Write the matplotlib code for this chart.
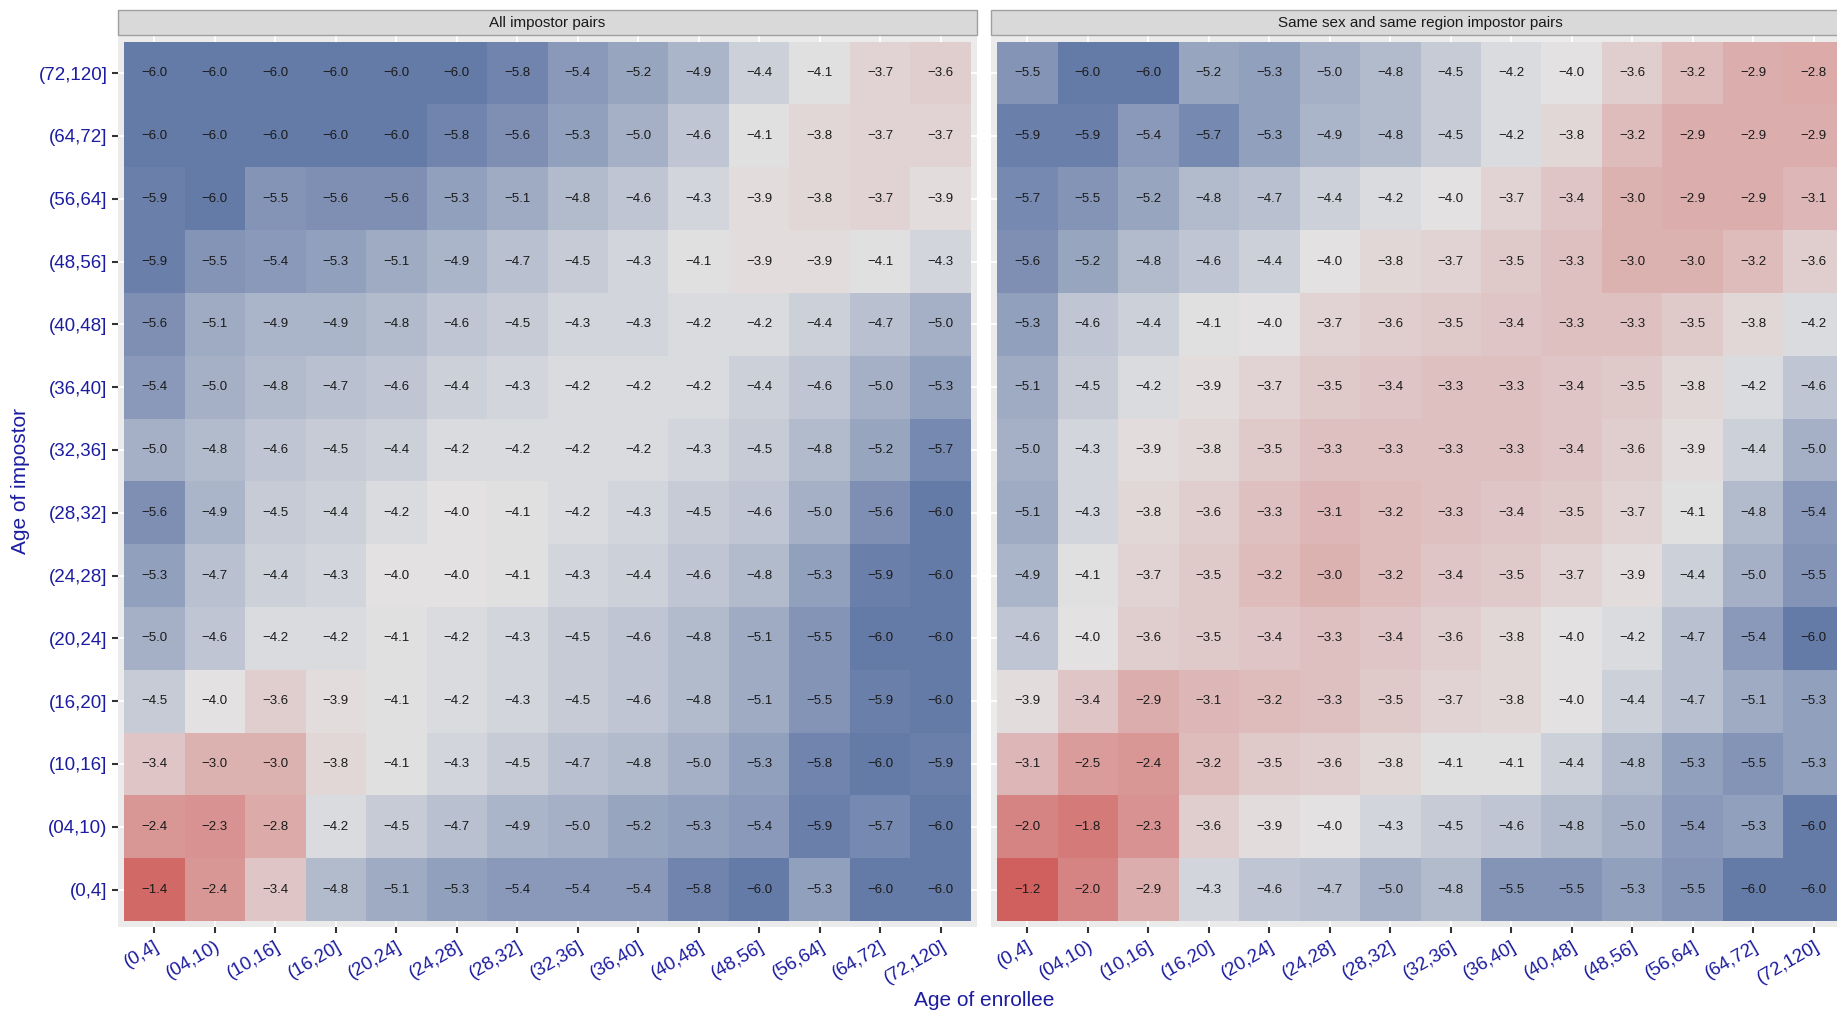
import numpy as np
import matplotlib
matplotlib.use('Agg')
import matplotlib.pyplot as plt
from matplotlib.colors import LinearSegmentedColormap, Normalize
from matplotlib.patches import Rectangle

plt.rcParams['font.family'] = ['Liberation Sans', 'DejaVu Sans']

# ---------------- data ----------------
age_bins = ["(0,4]", "(04,10)", "(10,16]", "(16,20]", "(20,24]", "(24,28]", "(28,32]",
            "(32,36]", "(36,40]", "(40,48]", "(48,56]", "(56,64]", "(64,72]", "(72,120]"]
impostor_rows = age_bins[::-1]  # top to bottom

panel_titles = ["All impostor pairs", "Same sex and same region impostor pairs"]

# rows: impostor age from (72,120] (top) down to (0,4] (bottom); columns: enrollee age (0,4] .. (72,120]
all_pairs = [
    [-6.0, -6.0, -6.0, -6.0, -6.0, -6.0, -5.8, -5.4, -5.2, -4.9, -4.4, -4.1, -3.7, -3.6],
    [-6.0, -6.0, -6.0, -6.0, -6.0, -5.8, -5.6, -5.3, -5.0, -4.6, -4.1, -3.8, -3.7, -3.7],
    [-5.9, -6.0, -5.5, -5.6, -5.6, -5.3, -5.1, -4.8, -4.6, -4.3, -3.9, -3.8, -3.7, -3.9],
    [-5.9, -5.5, -5.4, -5.3, -5.1, -4.9, -4.7, -4.5, -4.3, -4.1, -3.9, -3.9, -4.1, -4.3],
    [-5.6, -5.1, -4.9, -4.9, -4.8, -4.6, -4.5, -4.3, -4.3, -4.2, -4.2, -4.4, -4.7, -5.0],
    [-5.4, -5.0, -4.8, -4.7, -4.6, -4.4, -4.3, -4.2, -4.2, -4.2, -4.4, -4.6, -5.0, -5.3],
    [-5.0, -4.8, -4.6, -4.5, -4.4, -4.2, -4.2, -4.2, -4.2, -4.3, -4.5, -4.8, -5.2, -5.7],
    [-5.6, -4.9, -4.5, -4.4, -4.2, -4.0, -4.1, -4.2, -4.3, -4.5, -4.6, -5.0, -5.6, -6.0],
    [-5.3, -4.7, -4.4, -4.3, -4.0, -4.0, -4.1, -4.3, -4.4, -4.6, -4.8, -5.3, -5.9, -6.0],
    [-5.0, -4.6, -4.2, -4.2, -4.1, -4.2, -4.3, -4.5, -4.6, -4.8, -5.1, -5.5, -6.0, -6.0],
    [-4.5, -4.0, -3.6, -3.9, -4.1, -4.2, -4.3, -4.5, -4.6, -4.8, -5.1, -5.5, -5.9, -6.0],
    [-3.4, -3.0, -3.0, -3.8, -4.1, -4.3, -4.5, -4.7, -4.8, -5.0, -5.3, -5.8, -6.0, -5.9],
    [-2.4, -2.3, -2.8, -4.2, -4.5, -4.7, -4.9, -5.0, -5.2, -5.3, -5.4, -5.9, -5.7, -6.0],
    [-1.4, -2.4, -3.4, -4.8, -5.1, -5.3, -5.4, -5.4, -5.4, -5.8, -6.0, -5.3, -6.0, -6.0],
]

same_pairs = [
    [-5.5, -6.0, -6.0, -5.2, -5.3, -5.0, -4.8, -4.5, -4.2, -4.0, -3.6, -3.2, -2.9, -2.8],
    [-5.9, -5.9, -5.4, -5.7, -5.3, -4.9, -4.8, -4.5, -4.2, -3.8, -3.2, -2.9, -2.9, -2.9],
    [-5.7, -5.5, -5.2, -4.8, -4.7, -4.4, -4.2, -4.0, -3.7, -3.4, -3.0, -2.9, -2.9, -3.1],
    [-5.6, -5.2, -4.8, -4.6, -4.4, -4.0, -3.8, -3.7, -3.5, -3.3, -3.0, -3.0, -3.2, -3.6],
    [-5.3, -4.6, -4.4, -4.1, -4.0, -3.7, -3.6, -3.5, -3.4, -3.3, -3.3, -3.5, -3.8, -4.2],
    [-5.1, -4.5, -4.2, -3.9, -3.7, -3.5, -3.4, -3.3, -3.3, -3.4, -3.5, -3.8, -4.2, -4.6],
    [-5.0, -4.3, -3.9, -3.8, -3.5, -3.3, -3.3, -3.3, -3.3, -3.4, -3.6, -3.9, -4.4, -5.0],
    [-5.1, -4.3, -3.8, -3.6, -3.3, -3.1, -3.2, -3.3, -3.4, -3.5, -3.7, -4.1, -4.8, -5.4],
    [-4.9, -4.1, -3.7, -3.5, -3.2, -3.0, -3.2, -3.4, -3.5, -3.7, -3.9, -4.4, -5.0, -5.5],
    [-4.6, -4.0, -3.6, -3.5, -3.4, -3.3, -3.4, -3.6, -3.8, -4.0, -4.2, -4.7, -5.4, -6.0],
    [-3.9, -3.4, -2.9, -3.1, -3.2, -3.3, -3.5, -3.7, -3.8, -4.0, -4.4, -4.7, -5.1, -5.3],
    [-3.1, -2.5, -2.4, -3.2, -3.5, -3.6, -3.8, -4.1, -4.1, -4.4, -4.8, -5.3, -5.5, -5.3],
    [-2.0, -1.8, -2.3, -3.6, -3.9, -4.0, -4.3, -4.5, -4.6, -4.8, -5.0, -5.4, -5.3, -6.0],
    [-1.2, -2.0, -2.9, -4.3, -4.6, -4.7, -5.0, -4.8, -5.5, -5.5, -5.3, -5.5, -6.0, -6.0],
]

x_title = "Age of enrollee"
y_title = "Age of impostor"

# ---------------- style ----------------
W, H = 1837, 1014
label_blue = "#1C1CA0"
midpoint = -4.05

panels = [np.array(all_pairs), np.array(same_pairs)]
vmin = min(p.min() for p in panels)
vmax = max(p.max() for p in panels)
mid_pos = (midpoint - vmin) / (vmax - vmin)
cmap = LinearSegmentedColormap.from_list(
    "div", [(0.0, "#647AA7"), (mid_pos, "#E3E3E3"), (1.0, "#D0605E")])
norm = Normalize(vmin, vmax)

fig = plt.figure(figsize=(W / 100, H / 100), dpi=100)
fig.patch.set_facecolor("white")

panel_top_px, panel_bot_px = 35.4, 927.3
panel_w_px = 859
lefts_px = [118, 991]
strip_h_px = 25.6

n = len(age_bins)
edges = np.arange(n + 1) - 0.5

for k, (Z, title) in enumerate(zip(panels, panel_titles)):
    ax = fig.add_axes([lefts_px[k] / W, 1 - panel_bot_px / H, panel_w_px / W,
                       (panel_bot_px - panel_top_px) / H])
    ax.set_facecolor("#EBEBEB")
    ax.set_axisbelow(True)
    ax.grid(True, color="white", lw=1.3)
    ax.pcolormesh(edges, edges, Z, cmap=cmap, norm=norm, shading="flat", zorder=1)
    ax.set_xlim(-0.6, n - 0.4)
    ax.set_ylim(n - 0.4, -0.6)
    for s in ax.spines.values():
        s.set_visible(False)

    for r in range(n):
        for c in range(n):
            ax.text(c, r, f"{Z[r, c]:.1f}".replace("-", "\u2212"), ha="center", va="center",
                    fontsize=9.5, color="#1A1A1A", zorder=3)

    ax.set_xticks(range(n))
    ax.set_xticklabels(age_bins, rotation=30, ha="right", va="top", rotation_mode="anchor",
                       color=label_blue, fontsize=13.5)
    ax.set_yticks(range(n))
    ax.tick_params(axis="both", length=4, width=1.5, color="#333333", pad=3.5)
    if k == 0:
        ax.set_yticklabels(impostor_rows, color=label_blue, fontsize=13.5)
    else:
        ax.tick_params(axis="y", left=False, labelleft=False)

    sh = strip_h_px / (panel_bot_px - panel_top_px)
    ax.add_patch(Rectangle((0, 1), 1, sh, transform=ax.transAxes, facecolor="#D9D9D9",
                           edgecolor="#A0A0A0", lw=1.0, clip_on=False, zorder=5))
    ax.text(0.5, 1 + sh / 2, title, transform=ax.transAxes, ha="center", va="center",
            fontsize=11, color="#1A1A1A", zorder=6)

fig.text(984 / W, 1 - 1001 / H, x_title, ha="center", va="center", fontsize=15,
         color=label_blue)
fig.text(21 / W, 1 - 481 / H, y_title, ha="center", va="center", rotation=90,
         fontsize=15, color=label_blue)

fig.savefig("out.png", dpi=100, facecolor="white")
